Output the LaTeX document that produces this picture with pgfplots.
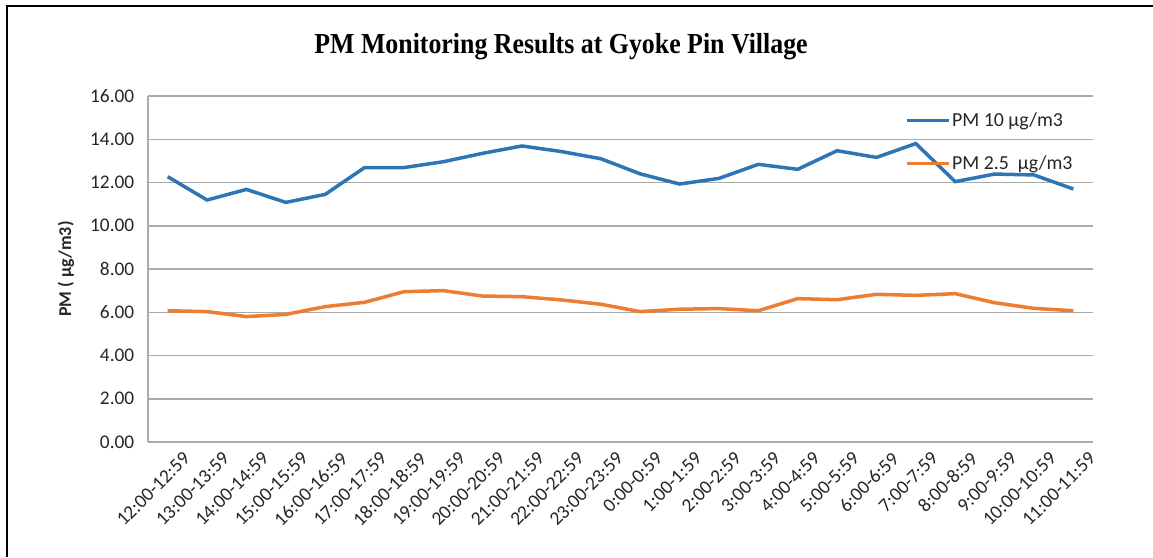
\documentclass[border=0pt]{standalone}
\usepackage{fontspec}
\usepackage{pgfplots}
\pgfplotsset{compat=1.18}
\newfontfamily\carlito{Carlito}
\newfontfamily\tnr{Liberation Serif}
\definecolor{pmblue}{RGB}{46,117,182}
\definecolor{pmorange}{RGB}{237,125,49}
\definecolor{gridgray}{RGB}{170,170,170}
\definecolor{txt}{RGB}{38,38,38}
\def\u{0.75pt}
\begin{document}
\begin{tikzpicture}
\path[use as bounding box] (0,0) rectangle (1153*\u,-557*\u);
\draw[black, line width=2*\u] (7*\u,-557*\u) -- (7*\u,-6*\u) -- (1153*\u,-6*\u);
\node[anchor=base, yscale=1.12, font=\tnr\bfseries\fontsize{19.4pt}{22pt}\selectfont] at (561*\u,-53*\u) {PM Monitoring Results at Gyoke Pin Village};
\node[rotate=90, font=\carlito\bfseries\fontsize{13.5pt}{16pt}\selectfont, text=txt] at (66*\u,-269*\u) {PM ( µg/m3)};
\begin{axis}[
  scale only axis,
  width=945*\u, height=346*\u,
  anchor=south west, at={(148*\u,-442*\u)},
  xmin=-0.5, xmax=23.5, ymin=0, ymax=16,
  ytick={0,2,...,16},
  xtick={0,...,23},
  xticklabels={12:00-12:59,13:00-13:59,14:00-14:59,15:00-15:59,16:00-16:59,17:00-17:59,18:00-18:59,19:00-19:59,20:00-20:59,21:00-21:59,22:00-22:59,23:00-23:59,0:00-0:59,1:00-1:59,2:00-2:59,3:00-3:59,4:00-4:59,5:00-5:59,6:00-6:59,7:00-7:59,8:00-8:59,9:00-9:59,10:00-10:59,11:00-11:59},
  /pgf/number format/assume math mode=true,
  yticklabel style={/pgf/number format/fixed, /pgf/number format/fixed zerofill, /pgf/number format/precision=2,
     font=\carlito\fontsize{14.5pt}{16pt}\selectfont, text=txt, inner sep=0pt, anchor=east, xshift=-13.5*\u},
  xticklabel style={rotate=45, anchor=east, inner sep=0pt, font=\carlito\fontsize{14.5pt}{16pt}\selectfont, text=txt, xshift=4*\u, yshift=-23*\u},
  major tick length=0pt,
  axis x line=bottom, axis y line=left,
  axis line style={-, gridgray, line width=1.5*\u},
  ymajorgrids, grid style={gridgray, line width=1.5*\u},
  legend style={draw=none, fill=none, inner sep=0pt, at={(0.801,0.957)}, anchor=north west,
     font=\carlito\fontsize{14.9pt}{17pt}\selectfont, text=txt, row sep=18.5pt,
     nodes={inner sep=1pt}},
  legend cell align=left,
  legend image code/.code={\draw[#1] (0,0) -- (42*\u,0);},
  clip=false,
]
\addplot[pmblue, line width=3.5*\u] coordinates {
(0,12.27) (1,11.19) (2,11.68) (3,11.08) (4,11.45) (5,12.69) (6,12.69) (7,12.96) (8,13.35) (9,13.69) (10,13.43) (11,13.10) (12,12.40) (13,11.93) (14,12.19) (15,12.84) (16,12.61) (17,13.47) (18,13.16) (19,13.80) (20,12.04) (21,12.39) (22,12.35) (23,11.70)};
\addlegendentry{PM 10 µg/m3}
\addplot[pmorange, line width=3.5*\u] coordinates {
(0,6.07) (1,6.03) (2,5.80) (3,5.90) (4,6.26) (5,6.46) (6,6.95) (7,7.00) (8,6.75) (9,6.72) (10,6.57) (11,6.37) (12,6.03) (13,6.14) (14,6.17) (15,6.07) (16,6.63) (17,6.58) (18,6.83) (19,6.78) (20,6.86) (21,6.44) (22,6.18) (23,6.07)};
\addlegendentry{PM 2.5\ \ µg/m3}
\end{axis}
\end{tikzpicture}
\end{document}
